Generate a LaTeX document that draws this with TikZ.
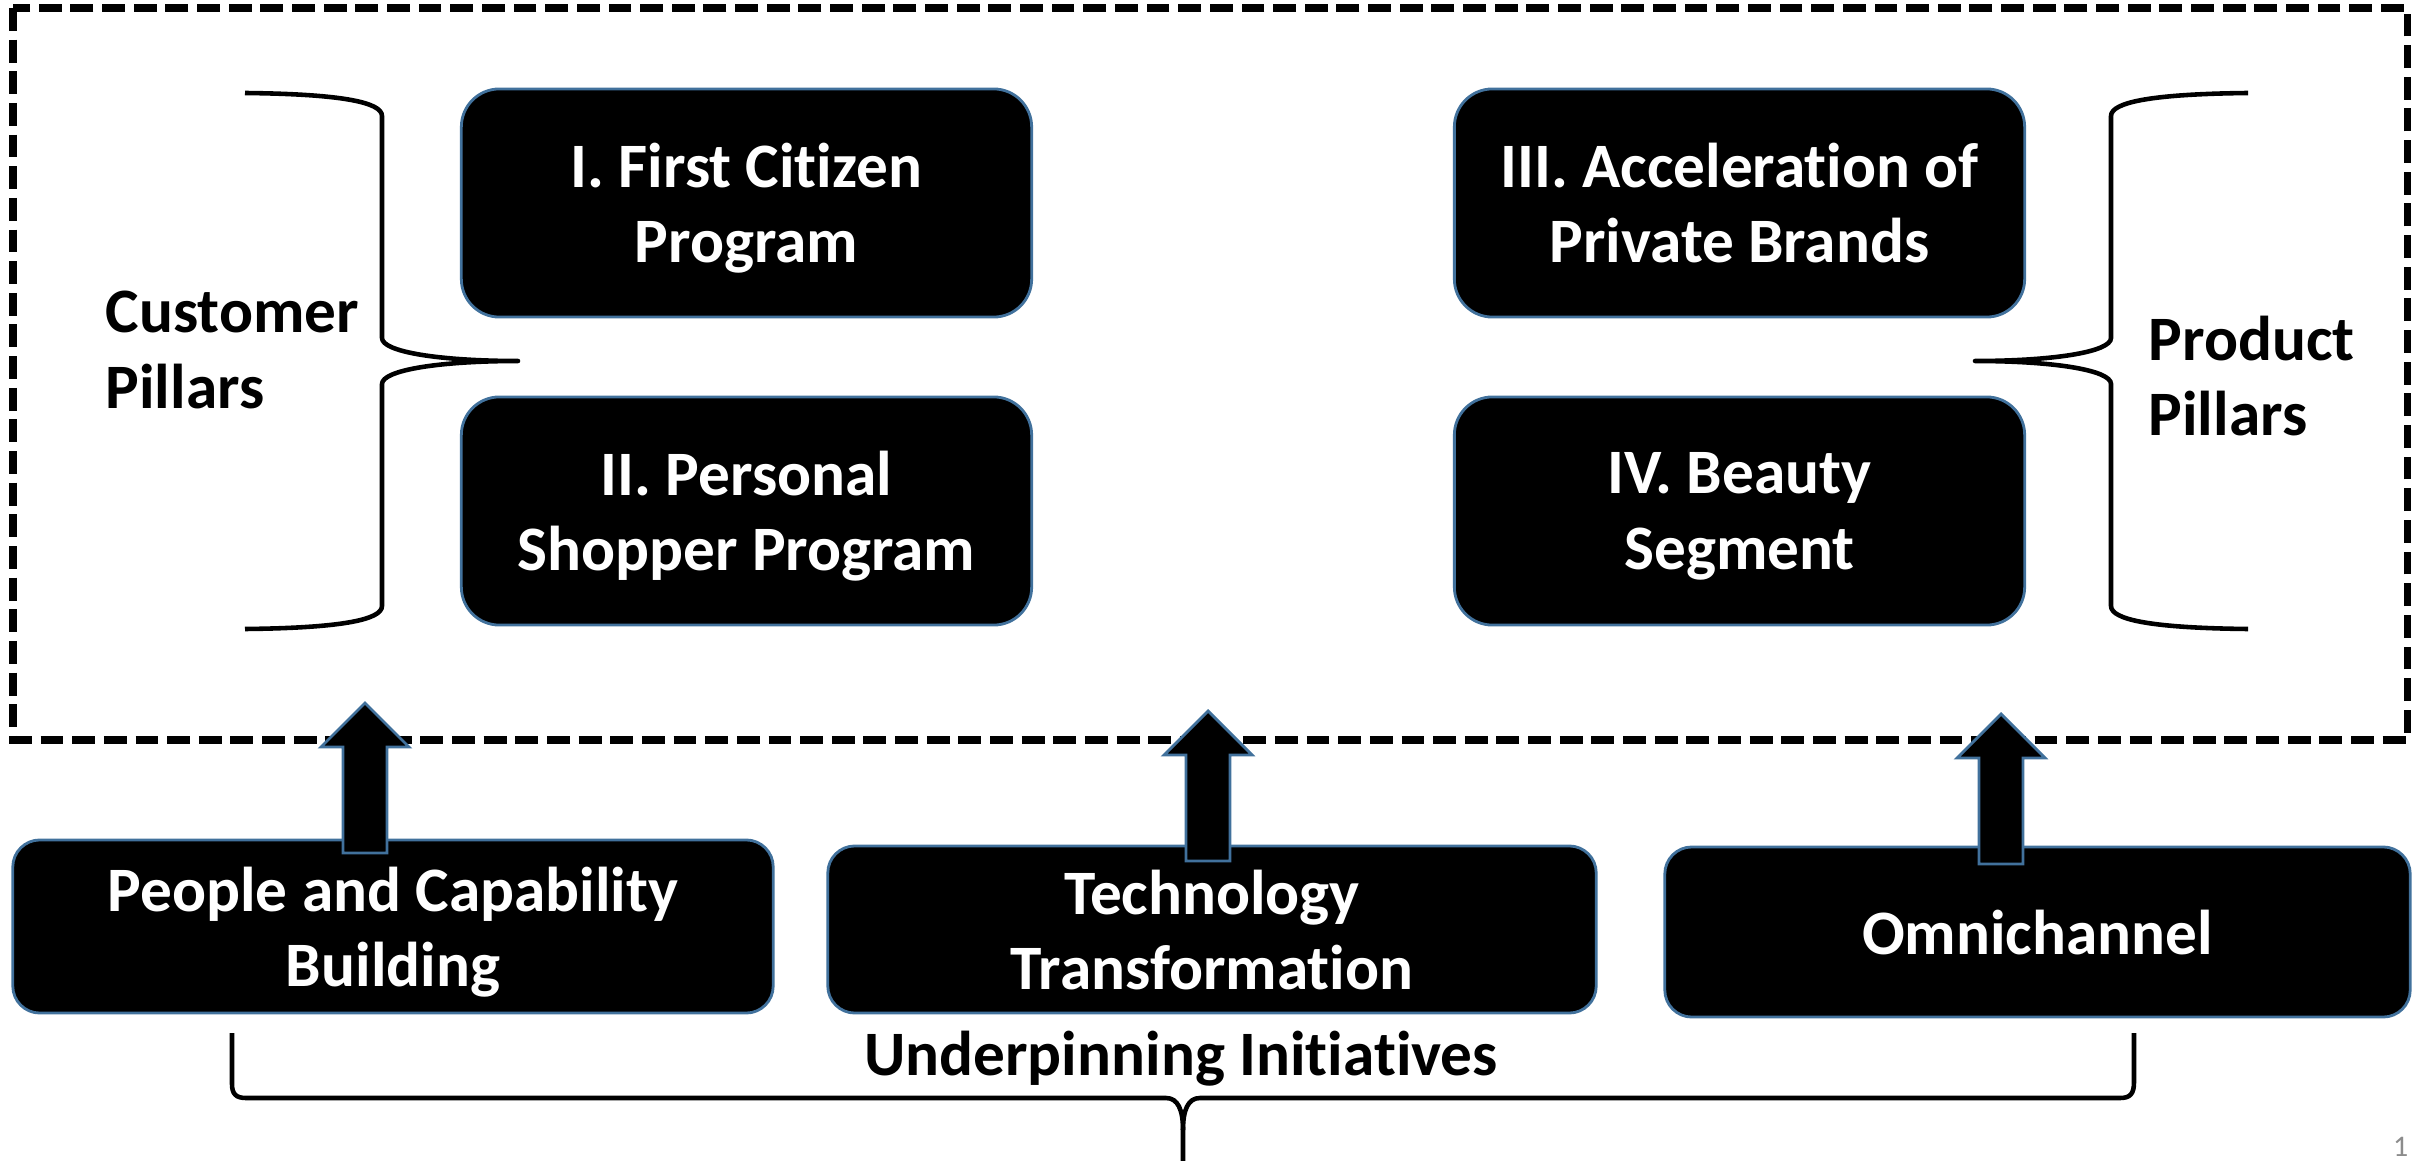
\documentclass[tikz,border=0pt]{standalone}
\usepackage{fontspec}
\setmainfont{Carlito}[Ligatures=NoCommon]
\usetikzlibrary{calc}
\definecolor{boxblue}{HTML}{41719C}
\definecolor{pagegray}{HTML}{8C8C8C}
\newcommand\pilfont{\bfseries\fontsize{18}{21.4}\selectfont}
\tikzset{
  pillar/.style={draw=boxblue, line width=0.8pt, fill=black, rounded corners=0.38cm,
    text=white, font=\pilfont, align=center, inner sep=0pt, text depth=0pt,
    minimum width=5.70cm, minimum height=2.28cm},
  initiative/.style={draw=boxblue, line width=0.8pt, fill=black, rounded corners=0.27cm,
    text=white, font=\pilfont, align=center, inner sep=0pt, text depth=0pt},
  bracepath/.style={line width=1.3pt, line join=round, line cap=butt},
  sidelabel/.style={font=\pilfont, align=left, inner sep=0pt},
  blockarrow/.style={draw=boxblue, fill=black, line width=0.8pt, line join=miter},
  frameline/.style={line width=2pt, dash pattern=on 6.5pt off 2.5pt},
  uparrow/.pic={\draw[blockarrow] (-22,150) -- (-22,44) -- (-44,44) -- (0,0) -- (44,44) -- (22,44) -- (22,150) -- cycle;}
}
\begin{document}
\begin{tikzpicture}[x=0.01cm, y=-0.01cm]
\useasboundingbox (0,0) rectangle (2412,1161);
% dashed frame
\draw[frameline] (13,8) rectangle (2407,740);
% pillar boxes
\node[pillar] (b1) at (746.5,203) {I. First Citizen\\Program};
\node[pillar] (b2) at (746.5,511) {II. Personal\\Shopper Program};
\node[pillar] (b3) at (1739.5,203) {III. Acceleration of\\Private Brands};
\node[pillar] (b4) at (1739.5,511) {IV. Beauty\\Segment};
% side labels
\node[sidelabel, anchor=west] (cust) at (105,350) {Customer\\Pillars};
\node[sidelabel, anchor=west] (prod) at (2148,376) {Product\\Pillars};
% braces
\draw[bracepath] (245,93) .. controls (340,94) and (382,102) .. (382,116) -- (382,338)
  .. controls (382,352) and (440,361) .. (518,361)
  .. controls (440,361) and (382,370) .. (382,384) -- (382,606)
  .. controls (382,620) and (340,628) .. (245,629);
\draw[bracepath] (2248,93) .. controls (2153,94) and (2111,102) .. (2111,116) -- (2111,338)
  .. controls (2111,352) and (2053,361) .. (1975,361)
  .. controls (2053,361) and (2111,370) .. (2111,384) -- (2111,606)
  .. controls (2111,620) and (2153,628) .. (2248,629);
% initiatives
\node[initiative, minimum width=7.60cm, minimum height=1.73cm] (p) at (393,926.5) {People and Capability\\Building};
\node[initiative, minimum width=7.68cm, minimum height=1.67cm] (t) at (1212,929.5) {Technology\\Transformation};
\node[initiative, minimum width=7.45cm, minimum height=1.70cm] (o) at (2037.5,932) {Omnichannel};
% block arrows
\pic at (365,703) {uparrow};
\pic at (1208,711) {uparrow};
\pic at (2001,714) {uparrow};
% bottom brace
\node[font=\pilfont, inner sep=0pt, anchor=base] (under) at (1181,1075) {Underpinning Initiatives};
\draw[bracepath] (232,1033) -- (232,1084) .. controls (232,1094) and (236,1098) .. (246,1098)
  -- (1166,1098) .. controls (1178,1098) and (1183,1110) .. (1183,1130) -- (1183,1175);
\draw[bracepath] (1183,1130) .. controls (1183,1110) and (1188,1098) .. (1200,1098)
  -- (2120,1098) .. controls (2130,1098) and (2134,1094) .. (2134,1082) -- (2134,1033);
% page number
\node[font=\fontsize{8.5}{10}\selectfont, text=pagegray, inner sep=0pt, anchor=base east] (pg) at (2409,1156) {1};
\end{tikzpicture}
\end{document}
